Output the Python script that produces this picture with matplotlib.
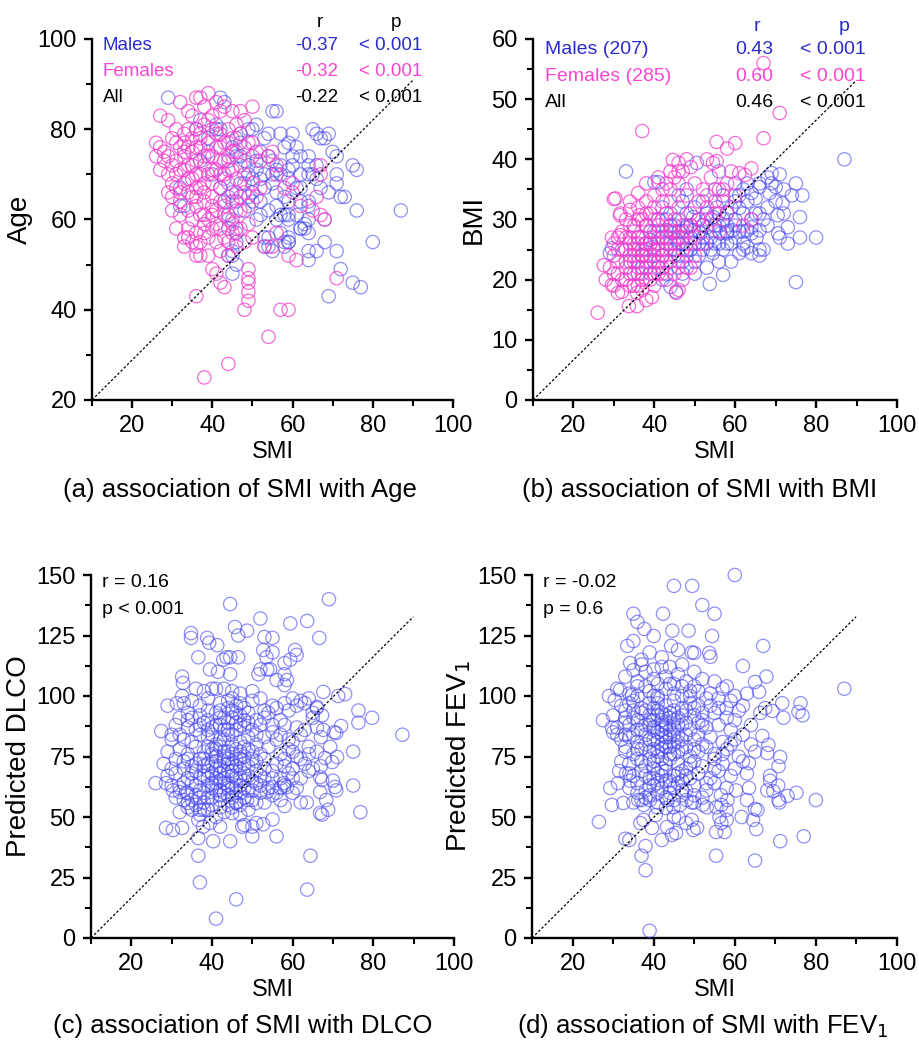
import numpy as np
import matplotlib.pyplot as plt
from matplotlib.ticker import MultipleLocator

plt.rcParams['font.family'] = ['Liberation Sans', 'DejaVu Sans']

# ---- data: (SMI, value) pairs ----

# (a) Age
age_males = [
    (29, 87), (42, 87), (43, 86), (55, 84), (56, 84), (65, 80), (66, 79), (67, 78), (69, 79), (68, 78),
    (71, 74), (75, 72), (76, 71), (71, 68), (71, 70), (69, 66), (72, 65), (73, 65), (76, 62), (87, 62),
    (80, 55), (72, 49), (75, 46), (77, 45), (69, 43), (68, 60), (68, 55), (66, 53), (64, 53), (64, 51),
    (71, 53), (59, 55), (58, 54), (59, 56), (64, 57), (62, 58), (63, 59), (64, 60), (59, 60), (59, 61),
    (56, 60), (54, 56), (53, 56), (53, 54), (45, 48), (46, 50), (45, 52), (32, 67), (32, 63),
    (41, 80), (41, 81), (42, 80), (47, 77), (46, 74), (44, 73), (49, 80), (50, 80), (51, 81), (54, 79),
    (57, 79), (60, 79), (59, 77), (61, 76), (60, 74), (62, 74), (64, 74), (64, 72), (66, 72), (62, 70),
    (64, 70), (65, 70), (67, 67), (59, 71), (57, 70), (59, 69), (55, 68), (53, 67), (52, 69), (49, 70),
    (51, 71), (50, 69), (49, 65), (50, 64), (44, 65), (43, 64), (44, 61), (45, 60), (44, 58), (46, 57),
    (46, 55), (45, 53), (44, 52), (58, 65), (59, 64), (57, 61), (58, 61), (57, 57), (59, 55), (58, 55),
    (62, 64), (64, 63), (64, 64), (62, 58), (63, 58), (52, 61), (51, 60), (37, 82), (36, 80), (39, 78),
    (39, 75), (37, 73), (33, 63), (40, 70), (42, 67), (43, 69), (46, 78), (47, 79), (54, 74), (55, 73),
    (56, 71), (54, 54), (55, 53), (48, 73), (47, 68), (45, 66), (48, 62), (52, 75), (56, 66), (61, 67),
    (45, 76), (47, 74), (49, 72), (51, 73), (53, 70), (55, 70), (57, 72), (50, 66), (52, 64), (54, 62),
    (56, 63), (48, 68), (46, 64), (53, 78), (58, 76), (60, 72), (62, 67), (66, 69), (70, 75), (61, 61),
]
age_females = [
    (39, 88), (36, 87), (37, 87), (32, 86), (27, 83), (29, 82), (26, 77), (50, 85), (47, 84), (45, 84),
    (43, 85), (41, 86), (38, 85), (35, 83), (34, 84), (40, 83), (31, 80), (33, 79), (30, 78), (28, 75),
    (29, 74), (27, 76), (31, 77), (33, 77), (35, 78), (36, 80), (38, 81), (40, 80), (42, 79), (44, 80),
    (46, 81), (48, 82), (45, 78), (43, 77), (41, 76), (39, 77), (37, 76), (35, 75), (33, 74), (31, 73),
    (30, 72), (29, 70), (32, 71), (34, 72), (36, 73), (38, 74), (40, 74), (42, 73), (44, 74), (46, 75),
    (48, 76), (50, 74), (52, 73), (54, 74), (56, 72), (47, 72), (45, 71), (43, 70), (41, 71), (39, 70),
    (37, 70), (35, 69), (33, 68), (31, 67), (30, 65), (32, 66), (34, 66), (36, 67), (38, 68), (40, 68),
    (42, 67), (44, 68), (46, 69), (48, 70), (50, 68), (52, 67), (58, 67), (60, 66), (62, 63), (66, 65),
    (67, 72), (65, 62), (38, 64), (36, 63), (34, 62), (32, 61), (30, 62), (35, 60), (37, 61), (39, 60),
    (41, 62), (43, 63), (45, 64), (47, 62), (49, 63), (51, 65), (40, 58), (38, 57), (36, 57), (34, 58),
    (31, 58), (33, 56), (35, 55), (37, 55), (39, 56), (41, 55), (43, 56), (45, 57), (47, 58), (49, 59),
    (42, 53), (44, 52), (46, 54), (48, 55), (50, 56), (36, 52), (37, 52), (39, 52), (33, 54), (40, 49),
    (41, 48), (42, 46), (43, 45), (49, 49), (49, 47), (49, 46), (49, 44), (49, 42), (48, 40), (57, 40),
    (59, 40), (54, 34), (44, 28), (38, 25), (36, 43), (61, 51), (59, 52), (53, 54), (55, 54), (56, 57),
    (71, 47), (67, 61), (68, 60), (29, 66), (27, 71), (28, 73), (26, 74), (55, 75), (60, 68), (49, 77),
    (50, 77), (51, 75), (56, 70), (67, 70), (37, 79), (39, 82), (42, 84), (34, 76), (36, 70), (38, 66),
    (40, 65), (42, 70), (44, 77), (35, 65), (33, 71), (41, 59), (43, 61), (45, 59), (47, 65), (37, 67),
    (31, 70), (33, 75), (35, 72), (37, 78), (39, 74), (41, 79), (43, 73), (45, 75), (47, 79), (32, 64),
    (34, 69), (36, 65), (38, 61), (40, 63), (42, 64), (44, 60), (46, 62), (48, 66), (30, 68), (32, 76),
    (34, 80), (36, 76), (38, 72), (40, 71), (42, 76), (44, 71), (46, 66), (38, 59), (40, 61), (42, 58),
    (44, 55), (46, 58), (36, 54), (34, 56),
]

# (b) BMI
bmi_males = [
    (87, 40), (33, 38), (40, 36.2), (41, 36.2), (69, 37.7), (71, 37.5), (68, 37), (69, 36), (70, 35.4),
    (75, 36), (76.6, 34), (71.7, 32.7), (70.5, 30.7), (76, 30.4), (76, 27), (80, 27), (73, 28.7),
    (70.6, 27.7), (71, 27), (75, 19.6), (67, 25), (66, 25), (64, 24.4), (63, 25.4), (62, 25), (61, 24.4),
    (57, 20.8), (53.7, 19.3), (64, 27.7), (66, 28.2), (64, 28.7), (63, 28.2), (65.3, 27), (59.4, 28.2),
    (58, 27.7), (56.3, 27.7), (54.6, 28.2), (53, 28.7), (51.4, 27.7), (49.6, 28.2), (48, 28.7),
    (64, 34.4), (65, 33.5), (66, 35.4), (68.5, 34.4), (61, 31.9), (58, 31.2), (55.5, 32), (56, 31),
    (54.6, 30.4), (51, 30), (49.6, 30.4), (53, 26), (54.5, 24.4), (41, 30), (43, 28.2), (44.5, 27.7),
    (45.5, 26.6), (46, 26), (39, 26.6), (37.7, 26), (38, 25), (39.6, 25.4), (29, 24.4), (29.5, 25.2),
    (42, 20), (44, 18.8), (45.4, 18), (50.5, 39.4),
    (42, 24), (44, 23), (46, 22), (48, 24), (50, 23), (52, 25), (47, 26), (49, 27), (51, 26), (55, 26),
    (57, 25), (59, 26), (60, 27), (62, 26), (58, 29), (60, 30), (62, 31), (63, 33), (60, 33), (57, 34),
    (55, 35), (52, 33), (50, 32), (48, 31), (46, 30), (44, 29), (42, 27), (40, 28), (38, 29), (36, 27),
    (35, 25), (34, 23), (37, 22), (39, 21), (41, 22), (43, 21), (47, 21), (50, 21), (53, 22), (56, 23),
    (59, 23), (48, 29), (46, 28), (52, 29), (54, 27), (56, 29), (58, 26), (61, 28), (67, 30), (68, 32),
    (72, 31), (73, 26), (65, 31), (66, 24), (40, 24), (45, 25), (47, 23), (49, 25), (51, 24), (43, 26),
    (38, 23), (36, 21), (44, 31), (42, 32), (47, 33), (53, 31), (66, 36), (62, 35), (60, 36), (56, 38),
    (48, 35), (46, 34),
    (44, 25), (46, 24), (48, 25), (50, 26), (52, 27), (54, 25), (56, 26), (58, 28), (60, 29), (62, 28),
    (64, 30), (66, 31), (68, 29), (70, 33), (72, 35), (74, 34), (63, 36), (61, 34), (59, 32), (57, 30),
    (55, 29), (53, 30), (51, 28), (49, 29), (47, 28), (45, 29), (43, 30), (41, 27), (39, 28), (37, 24),
]
bmi_females = [
    (37, 44.7), (67, 56), (71, 47.7), (67, 43.5), (55.4, 42.9), (58, 41.8), (60, 42.7), (44.6, 39.9),
    (46, 39.4), (48, 40), (49, 38.7), (53, 40), (54.5, 39.4), (55.4, 39.7), (64, 38.5), (61, 37.7),
    (62.4, 37.4), (30, 33.4), (36, 34.4), (31.5, 30.7), (34, 31.6), (29.5, 27), (31.5, 27.4),
    (27.5, 22.4), (26, 14.5), (33.7, 15.6), (35.7, 15.6), (31, 17.8), (29.5, 19.1), (35.7, 17.8),
    (37, 18.3), (39.4, 17.1), (38, 16.6), (45.4, 17.8), (46, 18.3), (30.4, 33.5), (31.6, 31), (36.4, 30.7),
    (30, 21), (31, 23), (32, 20), (33, 22), (34, 24), (35, 21), (36, 23), (37, 20), (38, 22), (39, 24),
    (40, 21), (41, 23), (42, 25), (32, 25), (33, 27), (34, 26), (35, 28), (36, 25), (37, 27), (38, 26),
    (39, 28), (40, 27), (41, 26), (42, 28), (43, 27), (44, 29), (45, 28), (31, 25), (30, 24), (29, 22),
    (28, 20), (30, 19), (32, 18), (34, 19), (36, 19), (38, 20), (40, 19), (42, 21), (43, 23), (44, 22),
    (45, 24), (46, 23), (47, 25), (48, 22), (35, 29), (37, 30), (39, 31), (41, 29), (43, 31), (45, 30),
    (47, 29), (49, 31), (51, 30), (53, 32), (55, 31), (57, 33), (42, 33), (44, 35), (46, 36), (48, 34),
    (50, 36), (52, 35), (54, 37), (56, 35), (58, 36), (45, 37), (47, 38), (43, 36), (40, 34), (38, 33),
    (36, 32), (34, 29), (33, 30), (38, 36), (41, 37), (44, 33), (46, 32), (48, 28), (50, 27), (52, 29),
    (54, 30), (56, 28), (58, 31), (60, 34), (62, 29), (64, 30), (33, 25), (35, 26), (37, 24), (39, 23),
    (41, 21), (43, 20), (45, 21), (47, 20), (49, 22), (31, 21), (34, 21), (36, 22), (40, 25), (42, 24),
    (44, 26), (46, 27), (48, 26), (50, 24), (52, 26), (36, 27), (38, 29), (40, 30), (42, 30), (44, 28),
    (39, 26), (41, 28), (37, 25), (35, 23), (33, 23),
    (34, 27), (36, 26), (38, 24), (40, 23), (42, 22), (35, 24), (37, 21), (39, 20), (41, 25), (43, 25),
    (45, 26), (47, 27), (49, 29), (51, 33), (53, 34), (55, 33), (57, 35), (59, 38), (44, 38), (46, 38),
    (42, 35), (40, 32), (38, 31), (36, 30), (34, 33), (32, 28), (31, 27), (30, 26), (33, 20), (35, 19),
]

# (c) predicted DLCO
dlco_all = [
    (44.5, 138), (69, 140), (52, 132), (59.4, 130), (63.6, 131), (45.7, 128.5), (46.5, 125), (48.7, 127),
    (34.8, 126), (34.8, 124), (38.8, 124), (39.3, 122), (41.3, 121), (36.6, 116), (42.8, 115), (43.6, 116),
    (44.5, 116), (46.5, 116), (39.5, 111), (41.5, 110), (44.5, 109), (53, 124.4), (55, 124), (52.7, 119),
    (55, 118), (53.5, 116), (60.6, 119), (61, 117), (58, 113.6), (59.4, 115), (52, 111), (53.7, 111),
    (54.4, 111), (51.5, 109), (58, 109), (58.6, 106.6), (58, 104.5), (56, 106.6), (66.6, 124),
    (32.6, 108), (32.8, 105.4), (32.6, 100), (29, 96), (31.3, 97), (27.4, 85.5), (30, 84), (26, 64),
    (87.2, 84), (76.3, 94), (79.7, 91), (76.3, 89), (75, 77), (75, 63), (76.8, 52), (67.6, 101.7),
    (71.3, 100), (73, 100.8), (70.3, 85), (70.8, 84.7), (72, 87.6), (67.3, 92), (66, 95.5), (67.6, 86),
    (65, 93), (69.3, 79), (71, 74.8), (68, 74.4), (69.8, 72.7), (66.8, 66.5), (67.3, 65.3), (70.5, 62.4),
    (70.8, 61), (70, 65), (66.8, 51.6), (68.8, 53), (36.6, 34), (37, 23), (46, 16), (41, 8), (63.6, 20),
    (64.4, 34), (28.6, 45.5), (30.3, 44.6), (32.6, 45.5), (36.6, 41.3), (40.3, 40), (44.5, 40), (50, 42),
    (56, 42), (52.7, 47), (55, 49), (58, 54.5), (62, 56), (63.5, 56), (67.3, 51), (66.8, 60.3), (68.3, 57),
    (28.6, 64), (30.3, 61), (32, 60.3), (33.6, 60), (34, 55.8), (35, 53), (37, 53), (36.6, 48.8),
    (37.8, 46), (39.5, 47.5), (42, 46), (45, 51.6), (47.5, 46), (48, 46.7), (50, 46), (51, 47.5),
    (46, 55.8), (48.7, 57), (51, 55.8), (52, 60), (53.6, 60.3), (55, 62.4), (57.8, 64), (58.6, 62.4),
    (60, 60),
    (36, 103), (38, 102), (40, 103), (41, 103), (43, 103), (45, 102), (47, 101), (50, 102), (52, 99),
    (55, 96), (60, 99), (62, 98), (64, 99), (66, 95), (56, 95),
    (33, 97), (35, 98), (37, 96), (39, 99), (42, 97), (44, 98), (46, 96), (48, 95), (50, 98), (53, 94),
    (58, 97), (61, 96), (63, 97), (34, 93),
    (32, 91), (35, 91), (37, 92), (39, 94), (41, 93), (43, 91), (45, 94), (47, 92), (49, 93), (51, 90),
    (54, 93), (57, 90), (59, 94), (65, 91),
    (31, 88), (34, 87), (36, 86), (38, 89), (40, 87), (42, 88), (44, 86), (46, 89), (48, 87), (50, 86),
    (52, 88), (55, 85), (58, 88), (61, 87), (63, 86), (66, 87),
    (30, 82), (33, 82), (35, 81), (37, 84), (39, 83), (41, 80), (43, 82), (45, 84), (47, 81), (49, 83),
    (51, 80), (53, 83), (56, 82), (60, 81), (62, 84), (64, 79), (67, 83),
    (29, 77), (32, 78), (34, 76), (36, 79), (38, 77), (40, 76), (42, 79), (44, 77), (46, 78), (48, 75),
    (50, 77), (52, 76), (54, 79), (57, 76), (59, 78), (61, 75), (64, 76), (66, 77),
    (28, 72), (30, 70), (33, 73), (35, 71), (37, 74), (39, 72), (41, 70), (43, 73), (45, 72), (47, 74),
    (49, 71), (51, 73), (53, 70), (56, 72), (58, 74), (60, 70), (63, 72), (65, 70), (67, 71),
    (29, 67), (31, 68), (34, 66), (36, 69), (38, 67), (40, 68), (42, 65), (44, 69), (46, 66), (48, 68),
    (50, 65), (52, 67), (55, 69), (57, 66), (59, 68), (62, 66), (64, 69),
    (30, 63), (32, 62), (35, 64), (37, 61), (39, 63), (41, 64), (43, 60), (45, 62), (47, 63), (49, 61),
    (51, 64), (54, 62), (56, 60), (58, 63), (61, 62),
    (31, 58), (33, 57), (36, 59), (38, 56), (40, 58), (42, 57), (44, 59), (46, 56), (48, 58), (50, 57),
    (53, 56), (55, 59), (57, 57),
    (32, 52), (34, 54), (37, 51), (39, 53), (41, 50), (43, 52), (45, 54), (47, 51), (49, 53),
    (40, 72), (41, 75), (42, 68), (43, 77), (44, 63), (45, 80), (46, 71), (47, 66), (42, 82), (44, 74),
    (41, 66), (43, 69), (45, 76), (39, 79), (38, 71), (40, 62), (46, 60), (48, 79), (42, 61), (44, 84),
    (39, 66), (47, 70), (43, 64), (41, 78), (45, 67),
    (38, 60), (39, 58), (40, 64), (41, 61), (42, 59), (43, 66), (44, 62), (45, 58), (46, 63), (47, 60),
    (48, 65), (38, 74), (39, 69), (40, 78), (41, 73), (42, 71), (43, 75), (44, 72), (45, 69), (46, 74),
    (47, 77), (48, 72), (37, 66), (36, 72), (35, 68), (34, 74), (36, 63), (35, 57), (37, 58), (39, 86),
    (40, 84), (41, 88), (42, 91), (43, 86), (44, 89), (45, 91), (46, 86), (47, 88), (48, 90), (49, 78),
    (50, 74), (51, 69), (52, 63), (53, 66), (50, 61), (49, 67), (48, 62), (47, 55), (44, 55), (42, 54),
    (40, 55), (38, 53), (36, 55), (34, 60), (33, 64), (33, 70), (31, 74), (32, 84), (34, 90), (37, 88),
    (39, 90), (42, 94), (44, 95), (46, 93), (49, 89), (53, 91), (55, 88), (57, 84), (59, 82), (60, 77),
    (62, 74), (58, 71), (55, 66), (57, 62), (60, 66), (53, 74), (51, 84), (47, 97), (45, 99),
]

# (d) predicted FEV1
fev1_all = [
    (60, 150), (45, 145.5), (49.5, 145.5), (52, 137.6), (55, 134), (35, 134), (36, 130.6), (37.7, 127.7),
    (42.3, 134), (44.6, 127), (48.6, 127), (40, 124.8), (54.4, 124.8), (33.5, 120.7), (35, 122.7),
    (44.3, 120.7), (46, 119), (49.4, 118), (50, 117.8), (53.7, 117.8), (54, 116.2), (67, 120.7),
    (62, 112.4), (67.8, 108), (65, 105.8), (66, 101.7), (87, 103), (71.7, 97), (76.2, 97), (75.7, 93.4),
    (76.7, 92), (72, 91), (69.3, 93.8), (67.5, 95), (66.3, 93), (27.5, 90), (29.7, 87), (30, 85),
    (31, 84), (33, 84), (29, 100), (30.4, 98.3), (31.7, 102.5), (34.7, 100.4), (34.2, 113.6), (37, 115),
    (35, 110.7), (39, 3), (38, 28), (37, 34), (38, 38), (55.4, 34), (65, 32), (71.2, 40), (77, 42),
    (33, 41), (34, 40.5), (26.5, 48), (29.7, 55), (32.5, 55.8), (29.3, 62), (31.2, 64), (33.2, 68),
    (31.5, 69), (34.2, 65), (80, 57), (75.2, 60), (73, 58.7), (71, 56), (70.8, 57), (69.5, 60.7), (68, 61),
    (68.7, 65), (68.7, 67), (70.7, 63), (71.2, 74.8), (70.8, 71), (68.3, 79.8), (66.8, 83.5), (68, 76.4),
    (65.6, 52.9), (65, 53.3), (65.3, 45), (64.5, 48.8), (61.7, 50), (57.5, 43.8), (55.4, 43.8), (58, 48.8),
    (56.7, 47.5), (56.2, 50), (58, 52.9), (56.6, 59), (60.3, 61), (63.5, 62), (63, 68), (63.5, 72.3),
    (63, 57), (49.8, 44.6), (50.7, 45.5), (49.4, 48.8), (48, 47.5), (45.5, 43.4), (44.5, 42.6), (45, 50),
    (46.2, 49.6), (42, 40.5), (39.6, 45.5), (43.3, 45.9), (36.7, 47.5), (37.5, 48.8), (40.5, 50.8),
    (43, 53.7), (35, 56), (36.2, 57), (37.5, 55), (39.1, 57), (40.9, 54), (43.3, 57), (44.9, 54),
    (46.5, 55), (48.1, 57), (49.4, 56), (52.1, 55), (53.1, 54), (55.5, 54), (56.7, 55), (58.2, 57),
    (33, 108), (36, 106), (38, 110), (40, 107), (42, 112), (44, 105), (46, 109), (48, 106), (50, 104),
    (52, 107), (55, 106), (58, 104), (37, 113), (41, 105),
    (31, 103), (34, 101), (36, 104), (39, 102), (41, 100), (43, 103), (45, 101), (47, 104), (49, 100),
    (51, 102), (54, 101), (57, 103), (60, 100), (63, 101),
    (32, 96), (35, 98), (37, 95), (39, 97), (41, 99), (43, 96), (45, 98), (47, 95), (49, 97), (51, 96),
    (53, 99), (56, 95), (59, 98), (62, 96),
    (30, 92), (33, 94), (35, 91), (37, 93), (39, 92), (41, 94), (42, 90), (44, 93), (46, 91), (48, 94),
    (50, 92), (52, 90), (55, 93), (58, 91), (61, 94),
    (31, 87), (33, 89), (36, 86), (38, 88), (40, 87), (42, 86), (43, 89), (45, 87), (47, 88), (49, 86),
    (51, 89), (53, 87), (56, 88), (59, 86),
    (32, 82), (34, 83), (36, 81), (38, 84), (40, 82), (42, 80), (44, 83), (46, 81), (48, 84), (50, 82),
    (52, 80), (54, 83), (57, 81), (60, 82), (64, 80),
    (33, 77), (35, 76), (37, 78), (39, 77), (41, 75), (43, 79), (45, 76), (47, 78), (49, 75), (51, 77),
    (53, 79), (55, 76), (58, 78), (61, 75), (65, 77),
    (34, 72), (36, 74), (38, 71), (40, 73), (42, 70), (44, 74), (46, 72), (48, 70), (50, 73), (52, 71),
    (55, 74), (57, 72), (60, 70), (62, 73),
    (35, 67), (37, 69), (39, 66), (41, 68), (43, 65), (45, 67), (47, 69), (49, 66), (51, 68), (54, 66),
    (56, 69), (59, 67),
    (34, 62), (36, 64), (38, 61), (40, 63), (42, 62), (44, 60), (46, 64), (48, 61), (50, 63), (53, 61),
    (55, 64), (58, 62),
    (37, 57), (39, 59), (41, 56), (43, 58), (45, 57), (47, 59), (50, 56), (52, 58),
    (40, 90), (41, 85), (42, 78), (43, 92), (44, 86), (45, 80), (39, 88), (40, 95), (41, 81), (42, 93),
    (43, 83), (44, 76), (45, 90), (46, 84), (38, 80), (39, 74), (40, 70), (41, 92), (42, 88), (43, 72),
    (38, 94), (39, 90), (40, 86), (41, 97), (42, 84), (43, 87), (44, 91), (45, 94), (46, 88), (47, 92),
    (48, 89), (39, 82), (40, 78), (41, 77), (42, 74), (43, 81), (44, 79), (45, 84), (46, 77), (47, 82),
    (48, 79), (37, 86), (36, 90), (35, 94), (34, 88), (36, 78), (37, 73), (38, 67), (39, 63), (40, 66),
    (41, 64), (42, 67), (43, 69), (44, 65), (45, 62), (46, 68), (47, 65), (48, 67), (49, 72), (50, 78),
    (51, 84), (52, 88), (50, 95), (49, 102), (47, 100), (45, 105), (43, 108), (40, 100), (38, 104),
    (36, 100), (34, 97), (33, 91), (35, 84), (33, 79), (32, 73), (34, 68), (36, 60), (38, 58), (41, 60),
    (44, 63), (47, 61), (50, 59), (53, 64), (55, 70), (57, 76), (59, 80), (62, 84), (64, 88), (60, 90),
    (58, 95), (56, 99), (54, 96), (52, 93), (40, 111), (42, 116), (44, 112), (39, 118), (47, 113),
    (50, 110),
]

stats_age = [('Males', '-0.37', '< 0.001'), ('Females', '-0.32', '< 0.001'), ('All', '-0.22', '< 0.001')]
stats_bmi = [('Males (207)', '0.43', '< 0.001'), ('Females (285)', '0.60', '< 0.001'), ('All', '0.46', '< 0.001')]

BLUE = '#4646f0'
PINK = '#f23ccb'
BLUE_T = '#2a2ad2'
PINK_T = '#ff44d2'


def style_axes(ax, ylim, ymaj, ymin_):
    ax.set_xlim(10, 100)
    ax.set_ylim(*ylim)
    for s in ['top', 'right']:
        ax.spines[s].set_visible(False)
    for s in ['left', 'bottom']:
        ax.spines[s].set_linewidth(1.7)
    ax.xaxis.set_major_locator(MultipleLocator(20))
    ax.xaxis.set_minor_locator(MultipleLocator(10))
    ax.yaxis.set_major_locator(MultipleLocator(ymaj))
    ax.yaxis.set_minor_locator(MultipleLocator(ymin_))
    ax.tick_params(which='major', length=6, width=1.7, labelsize=17, pad=5, direction='out')
    ax.tick_params(which='minor', length=4, width=1.5, direction='out')
    ax.set_xticks([20, 40, 60, 80, 100])
    ax.set_xlabel('SMI', fontsize=17, labelpad=3)
    # dotted guide line
    ax.plot([0, 0.888], [0, 0.885], transform=ax.transAxes, color='k',
            ls=(0, (2, 1.6)), lw=0.9, zorder=5)


def scatter(ax, pts, color, alpha):
    a = np.array(pts, dtype=float)
    ax.scatter(a[:, 0], a[:, 1], s=92, facecolors='none', edgecolors=color,
               linewidths=0.9, alpha=alpha, clip_on=False, zorder=3)


fig = plt.figure(figsize=(9.19, 10.46), dpi=100)
ax_a = fig.add_axes([92/919, 1 - 400/1046, 361/919, 361/1046])
ax_b = fig.add_axes([533/919, 1 - 400/1046, 364/919, 361/1046])
ax_c = fig.add_axes([91/919, 1 - 938/1046, 363/919, 363/1046])
ax_d = fig.add_axes([532/919, 1 - 938/1046, 365/919, 363/1046])

# (a)
style_axes(ax_a, (20, 100), 20, 10)
scatter(ax_a, age_males, BLUE, 0.6)
scatter(ax_a, age_females, PINK, 0.75)
ax_a.set_ylabel('Age', fontsize=20, labelpad=3)
ax_a.text(0.632, 1.047, 'r', transform=ax_a.transAxes, fontsize=13.5, ha='center', va='center')
ax_a.text(0.842, 1.047, 'p', transform=ax_a.transAxes, fontsize=13.5, ha='center', va='center')
for (lab, r, p), yy, c in zip(stats_age, [0.983, 0.911, 0.839], [BLUE_T, PINK_T, 'k']):
    ax_a.text(0.03, yy, lab, transform=ax_a.transAxes, fontsize=13.5, color=c, va='center')
    ax_a.text(0.681, yy, r, transform=ax_a.transAxes, fontsize=13.5, color=c, va='center', ha='right')
    ax_a.text(0.914, yy, p, transform=ax_a.transAxes, fontsize=13.5, color=c, va='center', ha='right')

# (b)
style_axes(ax_b, (0, 60), 10, 5)
scatter(ax_b, bmi_males, BLUE, 0.6)
scatter(ax_b, bmi_females, PINK, 0.75)
ax_b.set_ylabel('BMI', fontsize=20, labelpad=3)
ax_b.text(0.615, 1.036, 'r', transform=ax_b.transAxes, fontsize=14, color=BLUE_T, ha='center', va='center')
ax_b.text(0.854, 1.036, 'p', transform=ax_b.transAxes, fontsize=14, color=BLUE_T, ha='center', va='center')
for (lab, r, p), yy, c in zip(stats_bmi, [0.97, 0.895, 0.825], [BLUE_T, PINK_T, 'k']):
    ax_b.text(0.033, yy, lab, transform=ax_b.transAxes, fontsize=14, color=c, va='center')
    ax_b.text(0.66, yy, r, transform=ax_b.transAxes, fontsize=14, color=c, va='center', ha='right')
    ax_b.text(0.915, yy, p, transform=ax_b.transAxes, fontsize=14, color=c, va='center', ha='right')

# (c)
style_axes(ax_c, (0, 150), 25, 12.5)
scatter(ax_c, dlco_all, BLUE, 0.6)
ax_c.set_ylabel('Predicted DLCO', fontsize=20, labelpad=3)
ax_c.text(0.03, 0.978, 'r = 0.16', transform=ax_c.transAxes, fontsize=14, va='center')
ax_c.text(0.03, 0.904, 'p < 0.001', transform=ax_c.transAxes, fontsize=14, va='center')

# (d)
style_axes(ax_d, (0, 150), 25, 12.5)
scatter(ax_d, fev1_all, BLUE, 0.6)
ax_d.set_ylabel('Predicted FEV$_1$', fontsize=20, labelpad=3)
ax_d.text(0.03, 0.978, 'r = -0.02', transform=ax_d.transAxes, fontsize=14, va='center')
ax_d.text(0.03, 0.904, 'p = 0.6', transform=ax_d.transAxes, fontsize=14, va='center')

fig.text(240/919, 1 - 490/1046, '(a) association of SMI with Age', fontsize=18.5, ha='center', va='center')
fig.text(700/919, 1 - 490/1046, '(b) association of SMI with BMI', fontsize=18.5, ha='center', va='center')
fig.text(243/919, 1 - 1026/1046, '(c) association of SMI with DLCO', fontsize=18.5, ha='center', va='center')
fig.text(703/919, 1 - 1026/1046, '(d) association of SMI with FEV$_1$', fontsize=18.5, ha='center', va='center')

fig.savefig('out.png', dpi=100)
